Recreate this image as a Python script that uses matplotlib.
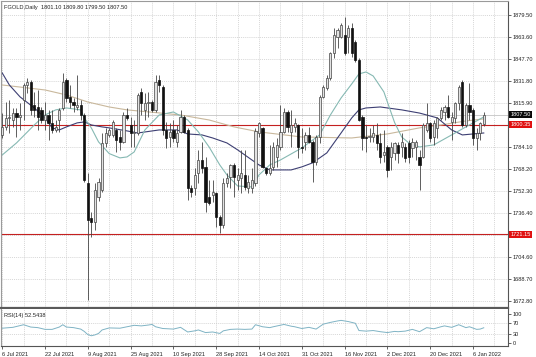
import matplotlib
matplotlib.use('Agg')
import matplotlib.pyplot as plt
import matplotlib.transforms as mtransforms

plt.rcParams['font.family'] = ['Liberation Sans', 'DejaVu Sans']

# ---- OHLC data (daily bars, 6 Jul 2021 .. Jan 2022) ----
opens = [1793.0, 1799.0, 1805.0, 1803.8, 1808.6, 1806.2, 1818.3, 1829.1, 1831.5, 1814.7,
         1813.5, 1811.1, 1803.8, 1807.4, 1801.4, 1796.6, 1803.8, 1812.3, 1832.7, 1820.7,
         1817.1, 1813.5, 1814.7, 1807.4, 1758.1, 1732.8, 1730.4, 1748.4, 1753.2, 1787.0,
         1793.0, 1793.0, 1796.6, 1791.8, 1788.2, 1807.4, 1800.2, 1794.2, 1794.2, 1824.3,
         1811.1, 1815.9, 1817.1, 1811.1, 1832.7, 1827.9, 1796.6, 1791.8, 1796.6, 1788.2,
         1795.4, 1806.2, 1796.6, 1754.4, 1754.4, 1765.3, 1774.9, 1770.1, 1748.4, 1749.6,
         1750.8, 1734.0, 1727.9, 1758.1, 1762.9, 1771.3, 1760.5, 1761.7, 1764.1, 1754.4,
         1754.4, 1758.0, 1794.2, 1797.8, 1768.9, 1765.3, 1770.1, 1777.3, 1784.6, 1795.4,
         1809.9, 1795.4, 1799.0, 1800.2, 1784.6, 1788.2, 1793.0, 1788.2, 1773.7, 1791.8,
         1820.7, 1826.7, 1833.9, 1852.0, 1864.1, 1864.1, 1865.3, 1864.1, 1870.1, 1860.4,
         1847.2, 1806.2, 1791.8, 1791.8, 1791.8, 1793.0, 1787.0, 1778.5, 1784.6, 1777.3,
         1779.7, 1785.8, 1784.6, 1784.6, 1787.0, 1783.4, 1784.6, 1777.3, 1777.3, 1796.6,
         1801.4, 1791.8, 1797.8, 1805.0, 1809.9, 1813.5, 1802.6, 1805.0, 1815.9, 1831.5,
         1800.2, 1814.7, 1811.1, 1790.6, 1794.2, 1801.1]
highs = [1808.6, 1817.1, 1818.3, 1812.3, 1812.3, 1815.9, 1830.3, 1834.0, 1832.7, 1824.3,
         1825.5, 1813.5, 1817.1, 1811.1, 1811.1, 1803.8, 1812.3, 1837.6, 1834.0, 1829.1,
         1819.5, 1836.4, 1818.3, 1808.6, 1765.3, 1737.6, 1758.1, 1761.7, 1794.2, 1797.8,
         1797.8, 1803.8, 1797.8, 1796.6, 1809.9, 1812.3, 1806.2, 1803.8, 1823.0, 1826.7,
         1823.1, 1824.3, 1818.0, 1836.4, 1836.4, 1829.1, 1802.6, 1801.4, 1803.8, 1800.2,
         1811.1, 1807.4, 1797.8, 1756.9, 1768.9, 1782.2, 1788.2, 1777.3, 1760.5, 1760.5,
         1752.0, 1735.2, 1761.7, 1765.3, 1772.0, 1772.5, 1768.9, 1782.2, 1782.2, 1764.1,
         1768.9, 1797.8, 1802.6, 1799.0, 1770.1, 1785.8, 1788.2, 1790.6, 1814.7, 1812.3,
         1811.1, 1811.1, 1805.0, 1801.0, 1797.8, 1795.4, 1799.0, 1789.4, 1793.0, 1821.9,
         1829.1, 1836.4, 1853.2, 1870.1, 1870.1, 1873.7, 1878.5, 1872.5, 1873.7, 1861.6,
         1848.4, 1807.4, 1800.2, 1797.8, 1800.2, 1801.4, 1794.2, 1796.6, 1785.8, 1788.2,
         1788.2, 1788.2, 1794.2, 1787.0, 1789.4, 1790.6, 1789.4, 1782.2, 1801.4, 1815.9,
         1802.6, 1803.8, 1806.2, 1813.5, 1814.7, 1821.9, 1809.9, 1817.1, 1829.1, 1832.7,
         1815.9, 1830.3, 1812.3, 1797.8, 1802.6, 1809.8]
lows = [1790.6, 1796.6, 1794.2, 1799.0, 1791.8, 1796.6, 1803.8, 1823.1, 1807.4, 1806.2,
        1796.6, 1801.4, 1796.6, 1789.4, 1794.2, 1795.4, 1795.4, 1811.1, 1817.1, 1812.3,
        1809.9, 1811.1, 1803.8, 1759.3, 1673.7, 1719.5, 1724.3, 1745.0, 1752.0, 1784.6,
        1791.8, 1791.8, 1781.0, 1782.2, 1787.0, 1803.8, 1784.6, 1784.6, 1793.0, 1807.4,
        1803.8, 1806.2, 1809.9, 1809.9, 1824.3, 1793.0, 1783.4, 1784.6, 1788.2, 1784.6,
        1794.2, 1794.2, 1746.0, 1748.4, 1749.6, 1758.1, 1765.3, 1737.6, 1742.4, 1744.8,
        1726.7, 1721.9, 1725.5, 1755.6, 1754.4, 1748.4, 1753.2, 1750.8, 1753.2, 1750.8,
        1750.8, 1756.0, 1791.8, 1768.9, 1764.1, 1764.1, 1767.7, 1770.1, 1782.2, 1794.2,
        1795.4, 1784.6, 1795.4, 1776.1, 1779.7, 1782.2, 1787.0, 1759.3, 1771.3, 1787.0,
        1819.5, 1825.5, 1832.7, 1848.4, 1855.6, 1862.9, 1850.8, 1852.0, 1849.6, 1846.0,
        1803.0, 1782.2, 1781.0, 1788.2, 1788.2, 1782.2, 1772.5, 1773.7, 1762.9, 1767.7,
        1774.9, 1772.5, 1777.3, 1773.7, 1772.5, 1777.3, 1775.0, 1753.2, 1776.1, 1795.4,
        1788.2, 1785.8, 1790.6, 1803.8, 1803.8, 1805.0, 1789.4, 1801.4, 1811.1, 1799.0,
        1799.0, 1803.8, 1785.8, 1782.2, 1789.4, 1799.5]
closes = [1799.0, 1805.0, 1806.2, 1808.6, 1806.2, 1807.4, 1829.1, 1831.5, 1811.1, 1811.1,
          1806.2, 1803.8, 1807.4, 1801.4, 1796.6, 1799.0, 1811.1, 1831.5, 1819.5, 1817.1,
          1814.7, 1814.7, 1807.4, 1760.5, 1731.6, 1730.4, 1753.2, 1759.3, 1787.0, 1794.2,
          1796.6, 1802.6, 1789.4, 1788.2, 1807.4, 1805.0, 1794.2, 1795.4, 1821.9, 1815.9,
          1815.9, 1817.1, 1811.1, 1831.5, 1829.1, 1796.6, 1790.6, 1795.4, 1790.6, 1794.2,
          1806.2, 1795.4, 1754.4, 1752.0, 1764.1, 1774.9, 1768.9, 1744.8, 1743.6, 1752.0,
          1734.0, 1727.9, 1758.1, 1761.7, 1771.3, 1762.9, 1764.1, 1765.3, 1755.6, 1759.3,
          1760.5, 1796.0, 1801.4, 1770.1, 1765.3, 1768.9, 1784.6, 1785.8, 1795.4, 1809.9,
          1799.0, 1800.2, 1801.4, 1784.6, 1783.4, 1793.0, 1788.2, 1773.7, 1791.8, 1820.7,
          1827.9, 1833.9, 1852.0, 1865.3, 1868.9, 1872.5, 1852.0, 1870.1, 1852.0, 1847.2,
          1803.8, 1790.6, 1790.6, 1792.4, 1794.2, 1787.0, 1777.3, 1780.9, 1767.7, 1784.6,
          1787.0, 1779.7, 1788.2, 1776.1, 1777.3, 1788.2, 1788.2, 1771.3, 1800.2, 1801.4,
          1790.6, 1801.4, 1805.0, 1811.1, 1813.5, 1806.2, 1806.2, 1815.9, 1827.9, 1800.2,
          1814.7, 1809.9, 1790.6, 1794.2, 1801.4, 1807.5]

# ---- moving averages (bar index, price) ----
ma_fast_bars = [0, 4, 9, 12, 15, 18, 22, 23, 25, 27, 30, 33, 35, 37, 40, 44, 48, 50, 52, 55,
                58, 61, 63, 66, 70, 72, 75, 78, 84, 89, 92, 95, 98, 100, 102, 104, 107, 110,
                112, 114, 117, 121, 126, 130, 135]
ma_fast_vals = [1778.5, 1787.2, 1800.2, 1807.4, 1811.1, 1812.5, 1811.1, 1805.3, 1798.0, 1788.0,
                1779.5, 1776.4, 1777.1, 1780.7, 1796.6, 1807.4, 1809.6, 1806.7, 1803.8, 1795.2,
                1784.3, 1771.3, 1764.1, 1756.1, 1755.4, 1764.1, 1771.3, 1774.9, 1783.6, 1793.0,
                1807.4, 1819.7, 1829.9, 1837.1, 1838.5, 1835.6, 1824.1, 1802.0, 1791.5, 1787.2,
                1784.3, 1785.8, 1793.0, 1798.8, 1806.0]
ma_mid_bars = [0, 2, 5, 9, 12, 14, 16, 18, 21, 23, 25, 28, 30, 35, 38, 44, 49, 52, 56, 59,
               63, 66, 70, 72, 75, 81, 84, 87, 91, 95, 98, 100, 102, 106, 112, 117, 122, 126,
               129, 132, 135]
ma_mid_vals = [1837.8, 1829.1, 1820.5, 1812.5, 1805.3, 1798.1, 1796.6, 1798.8, 1801.7, 1802.4,
               1800.2, 1798.8, 1798.1, 1795.9, 1794.4, 1796.6, 1796.6, 1793.7, 1793.0, 1790.8,
               1787.2, 1782.2, 1774.9, 1771.3, 1767.7, 1767.7, 1769.9, 1772.8, 1780.0, 1794.4,
               1805.3, 1811.1, 1812.5, 1813.2, 1811.1, 1808.8, 1805.3, 1796.6, 1793.0, 1793.7,
               1794.4]
ma_slow_bars = [0, 12, 18, 24, 30, 35, 44, 50, 58, 65, 72, 84, 98, 108, 117, 123, 130, 135]
ma_slow_vals = [1829.1, 1825.5, 1821.9, 1816.8, 1813.2, 1811.1, 1808.9, 1807.4, 1803.8, 1798.8,
                1795.2, 1791.5, 1790.8, 1793.7, 1798.1, 1800.2, 1803.1, 1804.6]

# ---- RSI(14) ----
rsi_bars = [0, 3, 6, 8, 10, 12, 14, 16, 17, 18, 20, 22, 23, 24, 25, 26, 27, 28, 30, 33,
            35, 37, 39, 41, 42, 43, 45, 48, 50, 52, 54, 55, 57, 59, 61, 62, 64, 66, 68, 70,
            71, 73, 75, 76, 79, 81, 82, 84, 86, 88, 90, 92, 94, 95, 97, 99, 100, 102, 104, 106,
            108, 110, 111, 113, 115, 117, 119, 121, 123, 124, 126, 128, 130, 131, 133, 134, 135]
rsi_vals = [51, 54, 63, 55, 53, 47, 47, 55, 63, 55, 53, 48, 40, 29, 25, 28, 33, 45, 52, 51,
            56, 61, 59, 62, 64, 56, 50, 48, 54, 38, 42, 45, 36, 38, 33, 42, 47, 48, 47, 48,
            63, 56, 53, 56, 64, 58, 56, 50, 54, 48, 65, 71, 76, 78, 74, 68, 43, 41, 43, 39,
            36, 40, 39, 41, 47, 39, 53, 49, 56, 59, 54, 63, 53, 56, 47, 48, 52.5438]

date_ticks = [0, 12, 24, 36, 48, 60, 72, 84, 96, 108, 120, 132]
date_labels = ['6 Jul 2021', '22 Jul 2021', '9 Aug 2021', '25 Aug 2021', '10 Sep 2021',
               '28 Sep 2021', '14 Oct 2021', '31 Oct 2021', '16 Nov 2021', '2 Dec 2021',
               '20 Dec 2021', '6 Jan 2022']
price_ticks = [1879.5, 1863.6, 1847.7, 1831.8, 1815.9, 1800.0, 1784.1, 1768.2, 1752.3,
               1736.4, 1720.5, 1704.6, 1688.7, 1672.8]
hidden_price_ticks = [1800.0, 1720.5]
level_lines = [1800.35, 1721.15]
last_price = 1807.50
rsi_ticks = [100, 70, 30, 0]

FS = 4.1
W, H = 536, 357
fig = plt.figure(figsize=(W / 100, H / 100), dpi=100)
fig.patch.set_facecolor('white')

ax = fig.add_axes([0.5 / W, 1 - 308 / H, 507.5 / W, 307 / H])
ax_r = fig.add_axes([0.5 / W, 1 - 346 / H, 507.5 / W, 37 / H], sharex=ax)

n = len(closes)
xs = list(range(n))

grid_kw = dict(color='#c8c8c8', lw=0.5, ls=(0, (1.5, 1.5)), zorder=0)
for g in range(0, 142, 6):
    ax.axvline(g, **grid_kw)
    ax_r.axvline(g, **grid_kw)
for p in price_ticks:
    ax.axhline(p, **grid_kw)
for lv in [30, 70]:
    ax_r.axhline(lv, **grid_kw)

# level lines
ax.axhline(last_price, color='#c4c4c4', lw=0.6, zorder=1)
for lv in level_lines:
    ax.axhline(lv, color='#c42020', lw=0.8, zorder=1)

# moving averages
ax.plot(ma_slow_bars, ma_slow_vals, color='#c9b89c', lw=0.8, zorder=2)
ax.plot(ma_mid_bars, ma_mid_vals, color='#3d3f73', lw=0.8, zorder=2)
ax.plot(ma_fast_bars, ma_fast_vals, color='#86b9b3', lw=0.8, zorder=2)

# candles
for i in xs:
    ax.vlines(i, lows[i], highs[i], color='#444444', lw=0.6, zorder=3)
up = [c >= o for o, c in zip(opens, closes)]
bot = [min(o, c) for o, c in zip(opens, closes)]
hgt = [max(abs(c - o), 0.4) for o, c in zip(opens, closes)]
ax.bar([x for x, u in zip(xs, up) if u], [h for h, u in zip(hgt, up) if u],
       bottom=[b for b, u in zip(bot, up) if u], width=0.62,
       facecolor='#e2e2e2', edgecolor='#444444', lw=0.5, zorder=4)
ax.bar([x for x, u in zip(xs, up) if not u], [h for h, u in zip(hgt, up) if not u],
       bottom=[b for b, u in zip(bot, up) if not u], width=0.62,
       facecolor='#111111', edgecolor='#111111', lw=0.5, zorder=4)

ax.set_xlim(-0.48, 141.8)
ax.set_ylim(1667.9, 1889.8)

# right price axis
ax.yaxis.tick_right()
ax.set_yticks(price_ticks)
ax.set_yticklabels(['' if p in hidden_price_ticks else f'{p:.2f}' for p in price_ticks])
ax.tick_params(axis='y', length=2, width=0.5, pad=1.5, labelsize=FS, colors='#222222')
ax.tick_params(axis='x', length=0, labelbottom=False)

trans = mtransforms.blended_transform_factory(ax.transAxes, ax.transData)
box_x = 1.0 + 2.5 / 507.5
ax.text(box_x, last_price, f'{last_price:.2f}', transform=trans, ha='left', va='center',
        fontsize=FS, color='white', zorder=10, clip_on=False,
        bbox=dict(boxstyle='square,pad=0.18', fc='#0a0a0a', ec='none'))
for lv in level_lines:
    ax.text(box_x, lv, f'{lv:.2f}', transform=trans, ha='left', va='center',
            fontsize=FS, color='white', zorder=10, clip_on=False,
            bbox=dict(boxstyle='square,pad=0.18', fc='#e01010', ec='none'))

for sp in ['top', 'left']:
    ax.spines[sp].set_color('#9a9a9a')
    ax.spines[sp].set_linewidth(0.8)
ax.spines['right'].set_color('#555555')
ax.spines['right'].set_linewidth(0.8)
ax.spines['bottom'].set_color('#5a5a5a')
ax.spines['bottom'].set_linewidth(1.6)

ax.text(3 / 507.5, 1 - 6 / 307, 'FGOLD,Daily  1801.10 1809.80 1799.50 1807.50',
        transform=ax.transAxes, ha='left', va='center', fontsize=FS, color='#222222')

# RSI panel
ax_r.plot(rsi_bars, rsi_vals, color='#7fb3c4', lw=0.7)
ax_r.set_ylim(-10.3, 117.2)
ax_r.yaxis.tick_right()
ax_r.set_yticks(rsi_ticks)
ax_r.set_yticklabels([str(t) for t in rsi_ticks])
ax_r.tick_params(axis='y', length=2, width=0.5, pad=1.5, labelsize=FS, colors='#222222')
ax_r.set_xticks(date_ticks)
ax_r.set_xticklabels(date_labels, ha='left')
ax_r.tick_params(axis='x', length=2, width=0.5, pad=2, labelsize=FS, colors='#222222')
ax_r.spines['left'].set_color('#9a9a9a')
ax_r.spines['left'].set_linewidth(0.8)
ax_r.spines['top'].set_visible(False)
ax_r.spines['right'].set_color('#555555')
ax_r.spines['right'].set_linewidth(0.8)
ax_r.spines['bottom'].set_color('#555555')
ax_r.spines['bottom'].set_linewidth(0.8)
ax_r.text(3 / 507.5, 1 - 6 / 37, 'RSI(14) 52.5438', transform=ax_r.transAxes,
          ha='left', va='center', fontsize=FS, color='#222222')

fig.savefig('out.png', dpi=100, facecolor='white')
